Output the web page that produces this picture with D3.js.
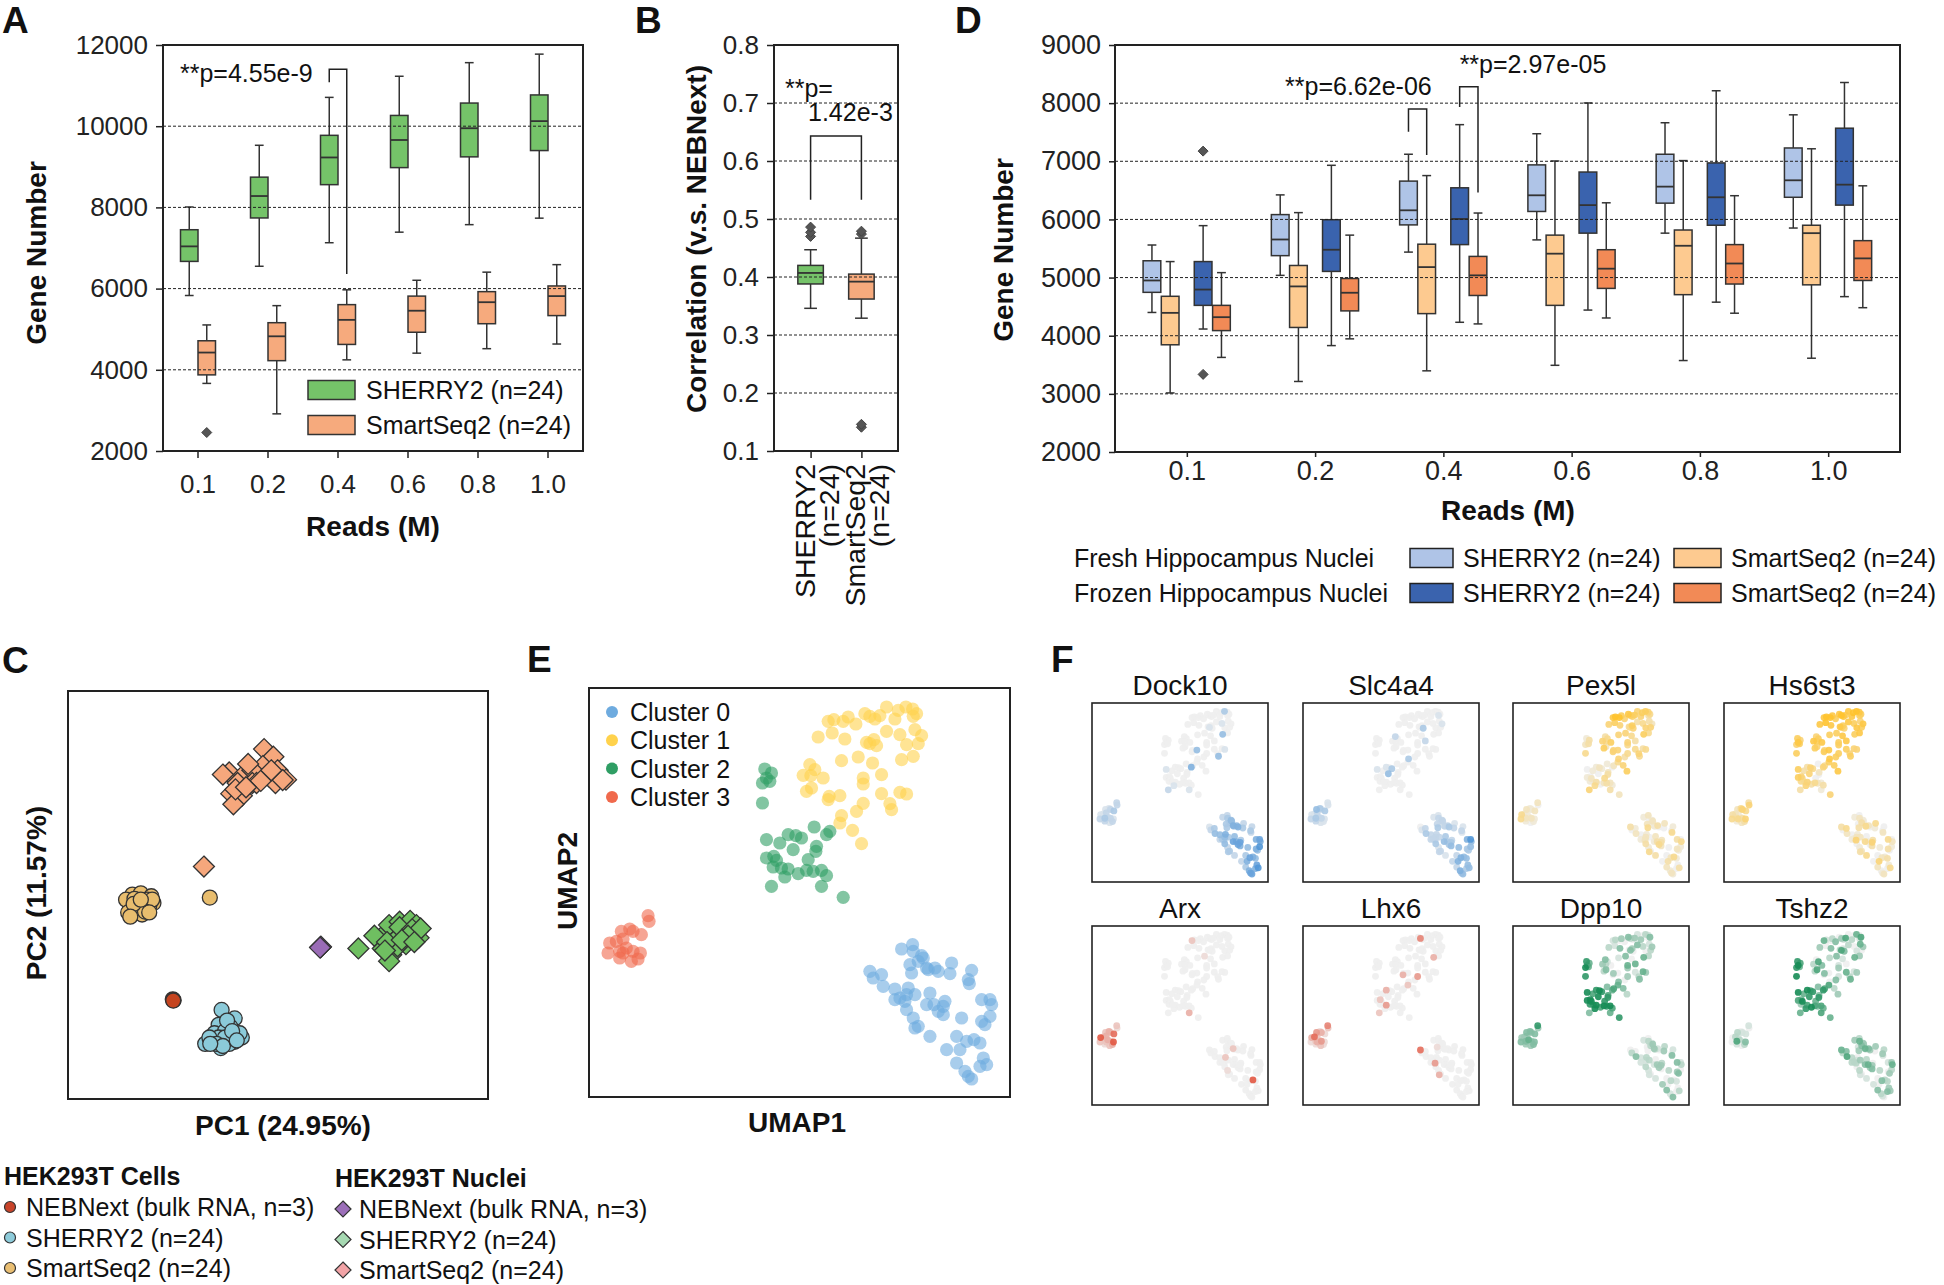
<!DOCTYPE html>
<html>
<head>
<meta charset="utf-8">
<script src="https://cdn.jsdelivr.net/npm/d3@7"></script>
<style>
  body { margin: 0; background: #fff; }
</style>
</head>
<body>
<div id="chart"></div>
<script>
// ---------- data ----------
var readsLabels = ["0.1", "0.2", "0.4", "0.6", "0.8", "1.0"];

// box stats: [whisker low, Q1, median, Q3, whisker high]
var aSherry2 = [
  [5830, 6670, 7040, 7450, 8010],
  [6550, 7740, 8280, 8745, 9530],
  [7130, 8560, 9230, 9775, 10710],
  [7390, 8980, 9660, 10265, 11230],
  [7575, 9245, 9950, 10570, 11565],
  [7735, 9400, 10125, 10770, 11775]
];
var aSmartSeq2 = [
  [3665, 3875, 4425, 4715, 5105],
  [2915, 4225, 4825, 5160, 5580],
  [4245, 4625, 5230, 5605, 5970],
  [4410, 4925, 5455, 5815, 6205],
  [4520, 5135, 5665, 5925, 6405],
  [4635, 5335, 5815, 6065, 6590]
];
var aSmartOutliers = [[0, 2455]];
var aTicks = [2000, 4000, 6000, 8000, 10000, 12000];

var bMethods = ["SHERRY2", "SmartSeq2"];
var bStats = [
  [0.346, 0.388, 0.407, 0.420, 0.447],
  [0.329, 0.362, 0.392, 0.405, 0.467]
];
var bOutliers = [[0, 0.470], [0, 0.477], [0, 0.486], [1, 0.474], [1, 0.479], [1, 0.141], [1, 0.146]];
var bTicks = [0.1, 0.2, 0.3, 0.4, 0.5, 0.6, 0.7, 0.8];

var dFreshSherry = [[4400,4746,4950,5289,5560],[5038,5377,5655,6083,6422],[5438,5906,6157,6659,7121],[5648,6137,6415,6938,7474],[5764,6280,6564,7121,7663],[5852,6381,6673,7229,7799]];
var dFreshSmart = [[3016,3844,4393,4678,5275],[3213,4142,4848,5208,6117],[3396,4380,5180,5574,6754],[3491,4522,5411,5730,7005],[3573,4706,5547,5818,7012],[3613,4875,5764,5900,7215]];
var dFrozenSherry = [[4115,4522,4794,5275,5893],[3830,5106,5479,5995,6931],[4231,5567,6008,6544,7630],[4441,5764,6246,6815,8003],[4577,5900,6381,6972,8213],[4672,6246,6598,7569,8355]];
var dFrozenSmart = [[3627,4088,4319,4522,5085],[3946,4427,4739,4984,5730],[4203,4692,5038,5364,6110],[4305,4814,5153,5479,6286],[4387,4889,5242,5567,6408],[4482,4950,5330,5635,6578]];
var dFrozenSherryOutliers = [[0, 7175], [0, 3335]];
var dTicks = [2000, 3000, 4000, 5000, 6000, 7000, 8000, 9000];

// PCA (PC1, PC2)
var pcNucleiSmart = [[2.8,34.5],[5.0,32.7],[-5.5,29.0],[-2.0,28.5],[2.5,30.5],[0,29.5],[6.0,29.5],[8.0,27.3],[-3.5,26.5],[0,26.5],[4.0,28.0],[5.5,26.5],[-5.0,24.0],[-2.5,23.5],[-4.5,21.5],[1.0,26.5],[-1.0,31.0],[-7.0,28.5],[2.0,27.0],[-4.0,25.0],[7.2,27.2],[4.5,29.5],[-1.5,25.5],[-11.5,6.8]];
var pcCellsSmart = [[-28.5,0.2],[-26.5,0.5],[-24.0,-0.2],[-27.5,-1.5],[-25.5,-1.8],[-23.5,-1.8],[-29.0,-3.0],[-26.0,-3.2],[-28.5,-4.5],[-27.0,-4.0],[-24.5,-2.5],[-30.0,-1.0],[-28.0,-0.8],[-25.0,-1.0],[-26.2,-4.5],[-29.5,-4.0],[-23.8,-1.0],[-27.2,-2.5],[-25.5,-3.8],[-28.2,-2.0],[-24.5,-4.0],[-26.5,-1.0],[-29.0,-5.0],[-10.1,-0.5]];
var pcCellsNeb = [[-18.9,-24.5],[-18.7,-24.7],[-18.8,-24.8]];
var pcCellsSherry = [[-7.3,-27.0],[-4.2,-29.0],[-8.0,-30.5],[-5.2,-31.0],[-9.0,-32.5],[-6.5,-32.0],[-4.5,-33.5],[-2.5,-33.5],[-11.2,-35.0],[-7.0,-34.5],[-4.2,-34.5],[-9.5,-34.0],[-7.5,-36.0],[-5.5,-35.0],[-8.0,-33.5],[-3.0,-32.5],[-6.0,-29.5],[-10.2,-33.5],[-6.5,-33.5],[-4.8,-32.0],[-8.5,-35.0],[-7.0,-35.5],[-3.7,-34.2],[-10.0,-35.0]];
var pcNucleiNeb = [[16.2,-12.2],[16.3,-12.1],[16.1,-12.3]];
var pcNucleiSherry = [[25.2,-12.5],[30.5,-10.0],[32.5,-7.0],[35.0,-6.2],[37.5,-6.0],[39.0,-7.0],[38.5,-9.0],[36.0,-9.0],[34.0,-10.5],[36.5,-11.5],[39.5,-10.0],[31.0,-12.5],[33.0,-14.0],[32.5,-15.5],[29.0,-9.5],[35.0,-7.5],[38.0,-8.0],[40.0,-7.8],[34.5,-12.0],[37.0,-9.5],[32.0,-11.0],[35.5,-10.5],[38.5,-11.0],[31.5,-13.0]];

// UMAP (UMAP1, UMAP2) per cluster
var umap0 = [[9.37,4.44],[9.70,4.57],[9.72,4.37],[9.97,4.24],[9.87,4.07],[9.62,3.97],[10.12,3.87],[10.37,3.87],[10.47,3.77],[10.87,4.02],
  [11.47,3.80],[10.82,3.70],[8.42,3.77],[8.52,3.57],[8.77,3.67],[8.82,3.32],[9.17,3.24],[9.67,3.72],[9.57,3.27],[9.52,3.07],
  [9.77,3.07],[10.22,3.12],[10.12,2.77],[10.34,2.77],[10.67,2.87],[11.37,3.52],[11.40,3.40],[9.17,2.92],[9.47,2.87],[9.52,2.62],
  [9.72,2.37],[9.87,2.12],[10.47,2.57],[10.62,2.47],[11.17,2.37],[11.77,2.92],[12.02,2.92],[12.07,2.77],[12.02,2.42],[11.77,2.27],
  [11.87,2.17],[10.22,1.82],[11.02,1.82],[11.32,1.67],[11.54,1.72],[11.72,1.62],[10.72,1.42],[11.12,1.42],[11.02,1.02],[11.82,1.17],
  [11.92,0.97],[11.27,0.77],[11.37,0.62],[11.47,0.54],[11.72,0.92],[9.77,2.07],[10.02,4.17],[10.17,3.82],[9.32,2.97],[10.62,2.72]];
var umap1 = [[7.17,11.27],[7.34,11.32],[7.62,11.27],[7.77,11.40],[8.00,11.19],[8.27,11.50],[8.42,11.42],[8.57,11.34],[8.72,11.44],[8.92,11.70],
  [9.17,11.34],[9.27,11.60],[9.50,11.70],[9.70,11.64],[9.82,11.50],[9.72,11.42],[6.87,10.80],[7.29,10.92],[7.67,10.74],[8.32,10.64],
  [8.54,10.72],[8.62,10.54],[8.92,10.97],[9.32,10.87],[9.77,11.02],[9.97,10.84],[9.52,10.57],[9.87,10.60],[8.42,10.60],[7.57,10.09],
  [8.07,10.20],[8.50,10.02],[9.37,10.12],[9.72,10.22],[6.62,9.97],[6.77,9.82],[6.42,9.65],[7.02,9.57],[6.65,9.64],[8.22,9.57],
  [8.22,9.39],[8.77,9.67],[6.67,9.27],[6.52,9.17],[7.20,9.02],[7.52,9.04],[8.77,9.10],[9.32,9.14],[9.52,9.09],[7.17,8.92],
  [9.02,8.80],[9.07,8.62],[8.22,8.81],[8.02,8.57],[7.57,8.44],[7.52,8.22],[7.90,8.00],[8.17,7.60]];
var umap2 = [[5.27,9.84],[5.47,9.72],[5.32,9.57],[5.20,9.42],[5.42,9.47],[5.20,8.82],[6.75,8.10],[7.22,7.97],[7.12,7.87],[5.97,7.87],
  [6.20,7.84],[6.37,7.77],[5.32,7.72],[5.72,7.62],[6.12,7.42],[6.82,7.52],[6.80,7.37],[5.32,7.17],[5.54,7.22],[5.62,7.10],
  [5.52,6.90],[5.97,6.84],[6.27,6.70],[6.57,7.12],[6.52,6.80],[6.72,6.77],[6.97,6.80],[7.12,6.64],[5.87,6.60],[5.47,6.32],
  [6.97,6.32],[7.62,5.99],[5.77,6.87]];
var umap3 = [[1.77,5.44],[1.80,5.27],[1.22,5.04],[0.97,4.97],[1.32,4.97],[1.57,4.87],[0.62,4.62],[1.02,4.74],[0.82,4.67],[0.57,4.32],
  [0.92,4.37],[1.12,4.47],[1.32,4.37],[1.54,4.32],[1.27,4.07],[0.92,4.17],[1.02,4.32],[1.47,4.14]];
var clusterNames = ["Cluster 0", "Cluster 1", "Cluster 2", "Cluster 3"];

// gene expression level (0-9) per point, one string per cluster (same order as umap0..umap3)
var genes = ["Dock10", "Slc4a4", "Pex5l", "Hs6st3", "Arx", "Lhx6", "Dpp10", "Tshz2"];
var exprDock10 = ["2234335452 2312344354 3465332234 2365456575 4236542536 7566534336",
  "0000000000 0030000000 0001000010 0040000000 0000040010 04000000",
  "0000000050 0010000000 0000000012 100", "2211231212 31211212"];
var exprSlc4a4 = ["1122121231 1201232322 2343221223 1234457443 3125442524 4534322223",
  "0000000000 0000010000 0300010000 0000200000 0200000000 00003000",
  "0000000001 0310400000 0000000000 000", "1134131212 31211211"];
var exprPex5l = ["1201021302 1030120412 0213204123 1042030412 1302410320 3121042103",
  "7886576565 5665435654 6534325545 5464345645 4326554345 54435456",
  "1302341201 2101023102 1304232145 320", "2012124114 21210101"];
var exprHs6st3 = ["1021301204 0130420312 2041302150 1203140213 0402130521 4012030415",
  "7887678767 7887667877 6576577666 6767567766 6756576556 56667667",
  "6575660453 5463520654 4530421353 152", "3542543124 31352143"];
var exprArx = ["0000002000 0000000020 0000000000 1000000000 0000700000 0000000000",
  "2000000000 0000000000 0000000000 1000000000 0000000000 00000000",
  "0000000000 0000000000 0000000000 300", "2132267322 13272123"];
var exprLhx6 = ["0000010000 0060000000 0000000040 0000000000 0000000000 0000030000",
  "0000005000 0000000000 0000000000 0030000000 0000000003 00400200",
  "0000000003 0000000020 0400000002 000", "5214313261 21412131"];
var exprDpp10 = ["1021203102 1302041021 2013204102 1030241203 4102013040 2104013203",
  "1203042031 3021402140 3042130241 4052413025 3542301530 24304542",
  "7568574657 8796867889 7867878684 576", "7344343334 45343334"];
var exprTshz2 = ["3253415433 2052462301 3245031220 2034213520 3104221043 3210413123",
  "5102403160 2050613042 1420531062 4153062401 3062405130 25140623",
  "7687584678 6785747658 3685646575 653", "1002110120 62040102"];

// ---------- drawing ----------
var font = "'Liberation Sans', Arial, Helvetica, sans-serif";
var ink = "#222";

var svg = d3.select("#chart")
  .append("svg")
    .attr("width", 1944)
    .attr("height", 1285)
    .attr("font-family", font);

function styleAxis(g, fs) {
  g.attr("font-family", font).attr("font-size", fs);
  g.select(".domain").remove();
  g.selectAll(".tick line").attr("stroke", ink).attr("stroke-width", 1.5);
  g.selectAll(".tick text").attr("fill", ink);
}

function text(g, str, x, y, opt) {
  opt = opt || {};
  var t = g.append("text")
    .attr("x", x).attr("y", y)
    .attr("font-size", opt.size || 25)
    .attr("font-weight", opt.bold ? "bold" : "normal")
    .attr("text-anchor", opt.anchor || "start")
    .attr("fill", opt.fill || "#111")
    .text(str);
  if (opt.rotate) t.attr("transform", "rotate(" + opt.rotate + "," + x + "," + y + ")");
  return t;
}

function diamond(h) {
  return "M0," + (-h) + "L" + h + ",0L0," + h + "L" + (-h) + ",0Z";
}

// box at centre cx, width w
function drawBox(g, cx, w, y, s, fill) {
  var st = "#333";
  g.append("line").attr("x1", cx).attr("x2", cx).attr("y1", y(s[0])).attr("y2", y(s[1])).attr("stroke", st).attr("stroke-width", 1.5);
  g.append("line").attr("x1", cx).attr("x2", cx).attr("y1", y(s[3])).attr("y2", y(s[4])).attr("stroke", st).attr("stroke-width", 1.5);
  [s[0], s[4]].forEach(function(v) {
    g.append("line").attr("x1", cx - w / 4).attr("x2", cx + w / 4).attr("y1", y(v)).attr("y2", y(v)).attr("stroke", st).attr("stroke-width", 1.5);
  });
  g.append("rect").attr("x", cx - w / 2).attr("y", y(s[3])).attr("width", w).attr("height", y(s[1]) - y(s[3]))
    .attr("fill", fill).attr("stroke", st).attr("stroke-width", 1.5);
  g.append("line").attr("x1", cx - w / 2).attr("x2", cx + w / 2).attr("y1", y(s[2])).attr("y2", y(s[2])).attr("stroke", st).attr("stroke-width", 1.8);
}

function outlier(g, x, y) {
  g.append("path").attr("d", diamond(5)).attr("transform", "translate(" + x + "," + y + ")").attr("fill", "#555").attr("stroke", "#444");
}

function grid(g, y, vals, x0, x1) {
  vals.forEach(function(v) {
    g.append("line").attr("x1", x0).attr("x2", x1).attr("y1", y(v)).attr("y2", y(v))
      .attr("stroke", ink).attr("stroke-width", 1).attr("stroke-dasharray", "3,2");
  });
}

function frame(g, x0, y0, x1, y1, sw) {
  g.append("rect").attr("x", x0).attr("y", y0).attr("width", x1 - x0).attr("height", y1 - y0)
    .attr("fill", "none").attr("stroke", ink).attr("stroke-width", sw || 2);
}

function bracket(g, x1, x2, yTop, yL, yR) {
  g.append("path").attr("d", "M" + x1 + "," + yL + "V" + yTop + "H" + x2 + "V" + yR)
    .attr("fill", "none").attr("stroke", ink).attr("stroke-width", 1.5);
}

// panel letters
[["A", 2, 33], ["B", 635, 33], ["D", 955, 33], ["C", 2, 673], ["E", 527, 672], ["F", 1051, 672]].forEach(function(p) {
  text(svg, p[0], p[1], p[2], {size: 37, bold: true});
});

// ---------- Panel A ----------
var colA = ["#75C369", "#F6AA7D"];
var xA = d3.scaleBand().domain(readsLabels).range([163, 583]);
var yA = d3.scaleLinear().domain([2000, 12000]).range([451, 45]);
var gA = svg.append("g");
gA.append("g").attr("transform", "translate(163,0)")
  .call(d3.axisLeft(yA).tickValues(aTicks).tickFormat(d3.format("d")).tickSize(7).tickPadding(8)).call(styleAxis, 26);
gA.append("g").attr("transform", "translate(0,451)")
  .call(d3.axisBottom(xA).tickSize(7).tickPadding(17)).call(styleAxis, 26);
var bwA = xA.bandwidth();
readsLabels.forEach(function(r, i) {
  var c = xA(r) + bwA / 2;
  drawBox(gA, c - 0.125 * bwA, 0.25 * bwA, yA, aSherry2[i], colA[0]);
  drawBox(gA, c + 0.125 * bwA, 0.25 * bwA, yA, aSmartSeq2[i], colA[1]);
});
aSmartOutliers.forEach(function(o) {
  outlier(gA, xA(readsLabels[o[0]]) + bwA * 0.625, yA(o[1]));
});
grid(gA, yA, [4000, 6000, 8000, 10000], 163, 583);
frame(gA, 163, 45, 583, 451);
var cA = xA("0.4") + bwA / 2;
bracket(gA, cA - 0.125 * bwA, cA + 0.125 * bwA, yA(11400), yA(11080), yA(6360));
text(gA, "**p=4.55e-9", 180, 82, {size: 25});
[["SHERRY2 (n=24)", colA[0], 390], ["SmartSeq2 (n=24)", colA[1], 425]].forEach(function(l) {
  gA.append("rect").attr("x", 308).attr("y", l[2] - 9.5).attr("width", 47).attr("height", 19)
    .attr("fill", l[1]).attr("stroke", "#333").attr("stroke-width", 1.5);
  text(gA, l[0], 366, l[2] + 9, {size: 25});
});
text(gA, "Gene Number", 46, 253, {size: 28, bold: true, anchor: "middle", rotate: -90});
text(gA, "Reads (M)", 373, 536, {size: 28, bold: true, anchor: "middle"});

// ---------- Panel B ----------
var xB = d3.scalePoint().domain(bMethods).range([774, 898]).padding(0.72);
var yB = d3.scaleLinear().domain([0.1, 0.8]).range([451, 45]);
var gB = svg.append("g");
gB.append("g").attr("transform", "translate(774,0)")
  .call(d3.axisLeft(yB).tickValues(bTicks).tickFormat(d3.format(".1f")).tickSize(7).tickPadding(8)).call(styleAxis, 26);
gB.append("g").attr("transform", "translate(0,451)")
  .call(d3.axisBottom(xB).tickSize(7).tickFormat("")).call(styleAxis, 26);
bMethods.forEach(function(m, i) {
  drawBox(gB, xB(m), 25.5, yB, bStats[i], colA[i]);
  text(gB, m, xB(m) + 4, 464, {size: 28.5, anchor: "end", rotate: -90});
  text(gB, "(n=24)", xB(m) + 28, 464, {size: 28.5, anchor: "end", rotate: -90});
});
bOutliers.forEach(function(o) { outlier(gB, xB(bMethods[o[0]]), yB(o[1])); });
grid(gB, yB, [0.2, 0.3, 0.4, 0.5, 0.6, 0.7], 774, 898);
frame(gB, 774, 45, 898, 451);
bracket(gB, xB(bMethods[0]), xB(bMethods[1]), yB(0.643), yB(0.533), yB(0.533));
text(gB, "**p=", 785, 97, {size: 25});
text(gB, "1.42e-3", 808, 121, {size: 25});
text(gB, "Correlation (v.s. NEBNext)", 706, 239, {size: 28, bold: true, anchor: "middle", rotate: -90});

// ---------- Panel D ----------
var dSeries = [dFreshSherry, dFreshSmart, dFrozenSherry, dFrozenSmart];
var dColors = ["#AFC4E7", "#FDCA90", "#3A63AE", "#F28A56"];
var dOffsets = [-0.272, -0.13, 0.127, 0.27];
var xD = d3.scalePoint().domain(readsLabels).range([1115, 1900]).padding(0.56);
var yD = d3.scaleLinear().domain([2000, 9000]).range([452, 45]);
var gD = svg.append("g");
gD.append("g").attr("transform", "translate(1115,0)")
  .call(d3.axisLeft(yD).tickValues(dTicks).tickFormat(d3.format("d")).tickSize(6).tickPadding(8)).call(styleAxis, 27);
gD.append("g").attr("transform", "translate(0,452)")
  .call(d3.axisBottom(xD).tickSize(5).tickPadding(4)).call(styleAxis, 27);
var stD = xD.step();
readsLabels.forEach(function(r, i) {
  dSeries.forEach(function(s, k) {
    drawBox(gD, xD(r) + dOffsets[k] * stD, 0.138 * stD, yD, s[i], dColors[k]);
  });
});
dFrozenSherryOutliers.forEach(function(o) { outlier(gD, xD(readsLabels[o[0]]) + dOffsets[2] * stD, yD(o[1])); });
grid(gD, yD, [3000, 4000, 5000, 6000, 7000, 8000], 1115, 1900);
frame(gD, 1115, 45, 1900, 452);
var c4 = xD("0.4");
bracket(gD, c4 + dOffsets[0] * stD, c4 + dOffsets[1] * stD, yD(7900), yD(7510), yD(7110));
bracket(gD, c4 + dOffsets[2] * stD, c4 + dOffsets[3] * stD, yD(8280), yD(7935), yD(6465));
text(gD, "**p=6.62e-06", c4 + dOffsets[1] * stD + 5, 95, {size: 25, anchor: "end"});
text(gD, "**p=2.97e-05", c4 + dOffsets[2] * stD, 73, {size: 25});
text(gD, "Gene Number", 1013, 250, {size: 28, bold: true, anchor: "middle", rotate: -90});
text(gD, "Reads (M)", 1508, 520, {size: 28, bold: true, anchor: "middle"});
[["Fresh Hippocampus Nuclei", 0, 558], ["Frozen Hippocampus Nuclei", 2, 593]].forEach(function(l) {
  text(gD, l[0], 1074, l[2] + 9, {size: 25});
  gD.append("rect").attr("x", 1410).attr("y", l[2] - 9.5).attr("width", 43).attr("height", 19)
    .attr("fill", dColors[l[1]]).attr("stroke", "#222").attr("stroke-width", 1.5);
  text(gD, "SHERRY2 (n=24)", 1463, l[2] + 9, {size: 25});
  gD.append("rect").attr("x", 1674).attr("y", l[2] - 9.5).attr("width", 47).attr("height", 19)
    .attr("fill", dColors[l[1] + 1]).attr("stroke", "#222").attr("stroke-width", 1.5);
  text(gD, "SmartSeq2 (n=24)", 1731, l[2] + 9, {size: 25});
});

// ---------- Panel C ----------
var xC = d3.scaleLinear().domain([-43.8, 56]).range([68, 488]);
var yC = d3.scaleLinear().domain([-48, 48.2]).range([1099, 691]);
var gC = svg.append("g");
function pcPoints(data, shape, fill) {
  data.forEach(function(p) {
    var t = "translate(" + xC(p[0]) + "," + yC(p[1]) + ")";
    if (shape === "d") {
      gC.append("path").attr("d", diamond(10.5)).attr("transform", t)
        .attr("fill", fill).attr("stroke", "#333").attr("stroke-width", 1.3);
    } else {
      gC.append("circle").attr("r", 7.5).attr("transform", t)
        .attr("fill", fill).attr("stroke", "#333").attr("stroke-width", 1.3);
    }
  });
}
pcPoints(pcNucleiSmart, "d", "#F6A77C");
pcPoints(pcCellsSmart, "c", "#E8BD6E");
pcPoints(pcCellsNeb, "c", "#C5441F");
pcPoints(pcCellsSherry, "c", "#8BCAD9");
pcPoints(pcNucleiNeb, "d", "#9A6CB6");
pcPoints(pcNucleiSherry, "d", "#6FBF61");
frame(gC, 68, 691, 488, 1099);
text(gC, "PC1 (24.95%)", 283, 1135, {size: 28, bold: true, anchor: "middle"});
text(gC, "PC2 (11.57%)", 46, 893, {size: 28, bold: true, anchor: "middle", rotate: -90});

var legCells = [["NEBNext (bulk RNA, n=3)", "#C8442A"], ["SHERRY2 (n=24)", "#8DCBDA"], ["SmartSeq2 (n=24)", "#E9BE72"]];
var legNuclei = [["NEBNext (bulk RNA, n=3)", "#9C6FB9"], ["SHERRY2 (n=24)", "#A6D9B2"], ["SmartSeq2 (n=24)", "#F2A3A6"]];
text(gC, "HEK293T Cells", 4, 1185, {size: 25, bold: true});
text(gC, "HEK293T Nuclei", 335, 1187, {size: 25, bold: true});
legCells.forEach(function(l, i) {
  var yy = 1207 + i * 30.5;
  gC.append("circle").attr("cx", 10).attr("cy", yy).attr("r", 5.5).attr("fill", l[1]).attr("stroke", "#333").attr("stroke-width", 1.2);
  text(gC, l[0], 26, yy + 9, {size: 25});
});
legNuclei.forEach(function(l, i) {
  var yy = 1209 + i * 30.5;
  gC.append("path").attr("d", diamond(8)).attr("transform", "translate(343," + yy + ")")
    .attr("fill", l[1]).attr("stroke", "#333").attr("stroke-width", 1.2);
  text(gC, l[0], 359, yy + 9, {size: 25});
});

// ---------- Panel E ----------
var clusters = [umap0, umap1, umap2, umap3];
var clusterColors = ["#6EABDF", "#FFD24C", "#2F9E64", "#F0694C"];
var umapX = [0, 12.62], umapY = [0, 12.27];
var xE = d3.scaleLinear().domain(umapX).range([589, 1010]);
var yE = d3.scaleLinear().domain(umapY).range([1097, 688]);
var gE = svg.append("g");
clusters.forEach(function(pts, c) {
  gE.selectAll(null).data(pts).enter().append("circle")
    .attr("cx", function(d) { return xE(d[0]); })
    .attr("cy", function(d) { return yE(d[1]); })
    .attr("r", 6.6)
    .attr("fill", clusterColors[c])
    .attr("fill-opacity", 0.6);
});
frame(gE, 589, 688, 1010, 1097);
clusterNames.forEach(function(n, c) {
  var yy = 712 + c * 28.3;
  gE.append("circle").attr("cx", 612).attr("cy", yy).attr("r", 6).attr("fill", clusterColors[c]);
  text(gE, n, 630, yy + 9, {size: 25});
});
text(gE, "UMAP1", 797, 1132, {size: 28, bold: true, anchor: "middle"});
text(gE, "UMAP2", 577, 881, {size: 28, bold: true, anchor: "middle", rotate: -90});

// ---------- Panel F ----------
var geneExpr = [exprDock10, exprSlc4a4, exprPex5l, exprHs6st3, exprArx, exprLhx6, exprDpp10, exprTshz2];
var geneColors = ["#3C8AD4", "#3C8AD4", "#FFC32E", "#FFC32E", "#E0422A", "#E0422A", "#168C55", "#168C55"];
var fCols = [1092, 1303, 1513, 1724], fRows = [703, 926], fW = 176, fH = 179;
var gF = svg.append("g");
genes.forEach(function(name, i) {
  var x0 = fCols[i % 4], y0 = fRows[Math.floor(i / 4)];
  var fx = d3.scaleLinear().domain(umapX).range([x0, x0 + fW]);
  var fy = d3.scaleLinear().domain(umapY).range([y0 + fH, y0]);
  var interp = d3.interpolateRgb("#EEEEEE", geneColors[i]);
  var pts = [];
  clusters.forEach(function(arr, c) {
    var lv = geneExpr[i][c].replace(/ /g, "").split("").map(Number);
    arr.forEach(function(p, j) { pts.push({u1: p[0], u2: p[1], lv: lv[j] || 0}); });
  });
  pts.sort(function(a, b) { return a.lv - b.lv; });
  gF.selectAll(null).data(pts).enter().append("circle")
    .attr("cx", function(d) { return fx(d.u1); })
    .attr("cy", function(d) { return fy(d.u2); })
    .attr("r", 3.4)
    .attr("fill", function(d) { return interp(Math.min(1, d.lv / 8)); })
    .attr("fill-opacity", 0.9);
  frame(gF, x0, y0, x0 + fW, y0 + fH, 1.6);
  text(gF, name, x0 + fW / 2, y0 - 8, {size: 28, anchor: "middle"});
});
</script>
</body>
</html>
